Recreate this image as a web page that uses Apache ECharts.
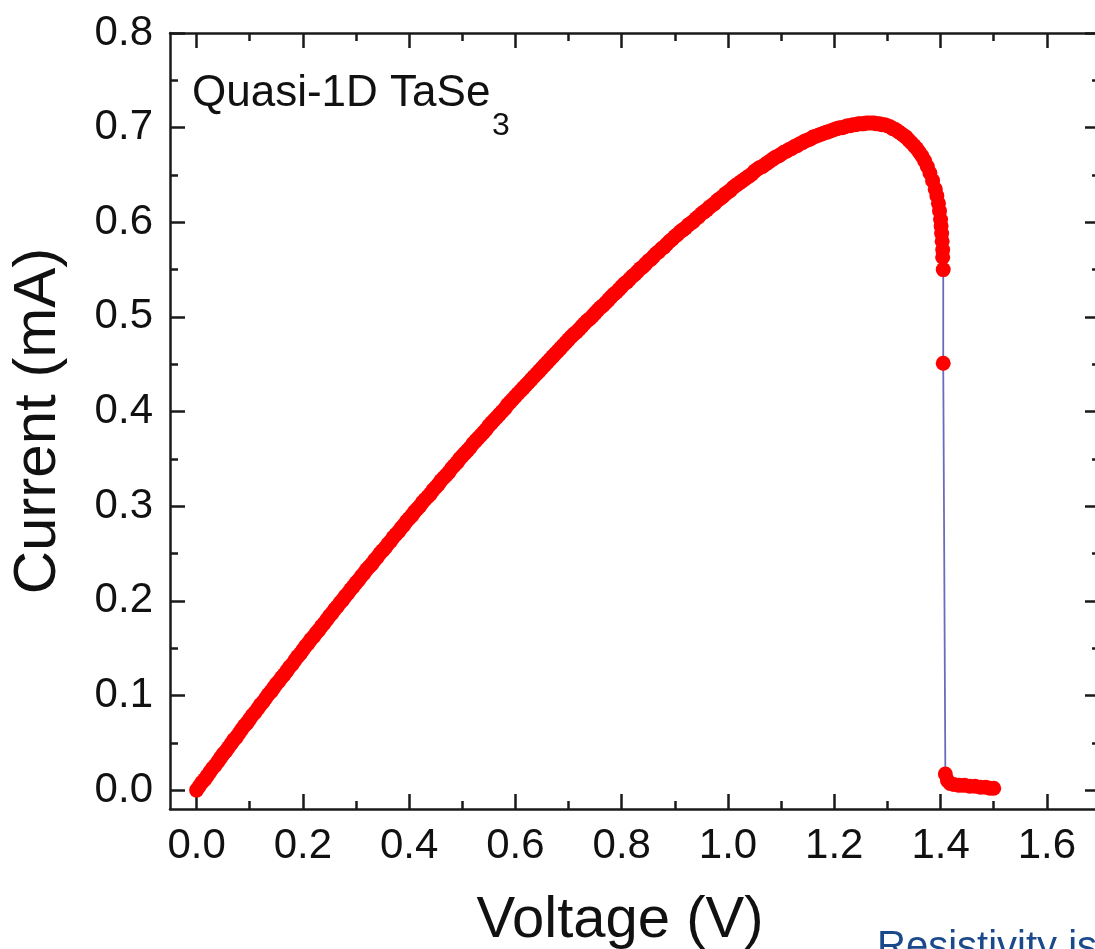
<!DOCTYPE html>
<html>
<head>
<meta charset="utf-8">
<title>Quasi-1D TaSe3 I-V</title>
<script src="https://cdn.jsdelivr.net/npm/echarts@6/dist/echarts.min.js"></script>
<style>
  html, body { margin: 0; padding: 0; background: #ffffff; }
  #chart { width: 1095px; height: 949px; }
</style>
</head>
<body>
<div id="chart"></div>
<script>
// Measured I-V sweep of a quasi-1D TaSe3 device (voltage in V, current in mA)
const voltage = [
  0.000, 0.005, 0.010, 0.015, 0.020, 0.025, 0.030, 0.035, 0.040, 0.045, 0.050, 0.055, 0.060, 0.065, 0.070, 0.075, 0.080, 0.085, 0.090, 0.095,
  0.100, 0.105, 0.110, 0.115, 0.120, 0.125, 0.130, 0.135, 0.140, 0.145, 0.150, 0.155, 0.160, 0.165, 0.170, 0.175, 0.180, 0.185, 0.190, 0.195,
  0.200, 0.205, 0.210, 0.215, 0.220, 0.225, 0.230, 0.235, 0.240, 0.245, 0.250, 0.255, 0.260, 0.265, 0.270, 0.275, 0.280, 0.285, 0.290, 0.295,
  0.300, 0.305, 0.310, 0.315, 0.320, 0.325, 0.330, 0.335, 0.340, 0.345, 0.350, 0.355, 0.360, 0.365, 0.370, 0.375, 0.380, 0.385, 0.390, 0.395,
  0.400, 0.405, 0.410, 0.415, 0.420, 0.425, 0.430, 0.435, 0.440, 0.445, 0.450, 0.455, 0.460, 0.465, 0.470, 0.475, 0.480, 0.485, 0.490, 0.495,
  0.500, 0.505, 0.510, 0.515, 0.520, 0.525, 0.530, 0.535, 0.540, 0.545, 0.550, 0.555, 0.560, 0.565, 0.570, 0.575, 0.580, 0.585, 0.590, 0.595,
  0.600, 0.605, 0.610, 0.615, 0.620, 0.625, 0.630, 0.635, 0.640, 0.645, 0.650, 0.655, 0.660, 0.665, 0.670, 0.675, 0.680, 0.685, 0.690, 0.695,
  0.700, 0.705, 0.710, 0.715, 0.720, 0.725, 0.730, 0.735, 0.740, 0.745, 0.750, 0.755, 0.760, 0.765, 0.770, 0.775, 0.780, 0.785, 0.790, 0.795,
  0.800, 0.805, 0.810, 0.815, 0.820, 0.825, 0.830, 0.835, 0.840, 0.845, 0.850, 0.855, 0.860, 0.865, 0.870, 0.875, 0.880, 0.885, 0.890, 0.895,
  0.900, 0.905, 0.910, 0.915, 0.920, 0.925, 0.930, 0.935, 0.940, 0.945, 0.950, 0.955, 0.960, 0.965, 0.970, 0.975, 0.980, 0.985, 0.990, 0.995,
  1.000, 1.005, 1.010, 1.015, 1.020, 1.025, 1.030, 1.035, 1.040, 1.045, 1.050, 1.055, 1.060, 1.065, 1.070, 1.075, 1.080, 1.085, 1.090, 1.095,
  1.100, 1.105, 1.110, 1.115, 1.120, 1.125, 1.130, 1.135, 1.140, 1.145, 1.150, 1.155, 1.160, 1.165, 1.170, 1.175, 1.180, 1.185, 1.190, 1.195,
  1.200, 1.205, 1.210, 1.215, 1.220, 1.225, 1.230, 1.235, 1.240, 1.245, 1.250, 1.255, 1.260, 1.265, 1.270, 1.275, 1.280, 1.285, 1.290, 1.295,
  1.300, 1.305, 1.310, 1.315, 1.320, 1.325, 1.330, 1.335, 1.340, 1.345, 1.350, 1.355, 1.360, 1.365, 1.370,
  1.375, 1.380, 1.385, 1.390, 1.393, 1.396, 1.398, 1.400,
  1.401, 1.402, 1.403, 1.404, 1.404, 1.405, 1.405,
  1.409, 1.413, 1.418, 1.425, 1.435, 1.445, 1.455, 1.465,
  1.475, 1.485, 1.493, 1.500
];
const current = [
  0.000, 0.004, 0.008, 0.011, 0.015, 0.019, 0.023, 0.026, 0.030, 0.034, 0.038, 0.041, 0.045, 0.049, 0.053, 0.056, 0.060, 0.064, 0.068, 0.071,
  0.075, 0.079, 0.082, 0.086, 0.090, 0.093, 0.097, 0.101, 0.104, 0.108, 0.112, 0.115, 0.119, 0.122, 0.126, 0.130, 0.133, 0.137, 0.141, 0.144,
  0.148, 0.152, 0.155, 0.159, 0.162, 0.166, 0.169, 0.173, 0.176, 0.180, 0.184, 0.187, 0.191, 0.194, 0.198, 0.201, 0.205, 0.208, 0.212, 0.215,
  0.219, 0.222, 0.226, 0.229, 0.233, 0.236, 0.239, 0.243, 0.246, 0.250, 0.253, 0.256, 0.260, 0.263, 0.267, 0.270, 0.273, 0.277, 0.280, 0.284,
  0.287, 0.290, 0.294, 0.297, 0.300, 0.304, 0.307, 0.310, 0.313, 0.317, 0.320, 0.323, 0.327, 0.330, 0.333, 0.336, 0.340, 0.343, 0.346, 0.350,
  0.353, 0.356, 0.359, 0.362, 0.366, 0.369, 0.372, 0.375, 0.378, 0.381, 0.385, 0.388, 0.391, 0.394, 0.397, 0.400, 0.403, 0.407, 0.410, 0.413,
  0.416, 0.419, 0.422, 0.425, 0.428, 0.431, 0.434, 0.437, 0.440, 0.443, 0.446, 0.449, 0.452, 0.455, 0.458, 0.461, 0.464, 0.467, 0.470, 0.473,
  0.476, 0.479, 0.482, 0.484, 0.487, 0.490, 0.493, 0.496, 0.498, 0.501, 0.504, 0.507, 0.510, 0.512, 0.515, 0.518, 0.521, 0.524, 0.526, 0.529,
  0.532, 0.535, 0.537, 0.540, 0.543, 0.545, 0.548, 0.551, 0.553, 0.556, 0.559, 0.561, 0.564, 0.567, 0.569, 0.572, 0.574, 0.577, 0.580, 0.582,
  0.585, 0.587, 0.590, 0.592, 0.594, 0.597, 0.599, 0.601, 0.604, 0.606, 0.609, 0.611, 0.613, 0.616, 0.618, 0.620, 0.623, 0.625, 0.627, 0.630,
  0.632, 0.634, 0.637, 0.639, 0.641, 0.643, 0.645, 0.647, 0.649, 0.651, 0.654, 0.656, 0.658, 0.659, 0.661, 0.663, 0.665, 0.667, 0.669, 0.670,
  0.672, 0.674, 0.675, 0.677, 0.678, 0.680, 0.681, 0.683, 0.684, 0.686, 0.687, 0.688, 0.690, 0.691, 0.692, 0.693, 0.694, 0.695, 0.696, 0.697,
  0.698, 0.699, 0.700, 0.700, 0.701, 0.702, 0.702, 0.703, 0.703, 0.704, 0.704, 0.704, 0.705, 0.705, 0.705, 0.705, 0.704, 0.704, 0.703, 0.703,
  0.702, 0.701, 0.699, 0.698, 0.696, 0.694, 0.692, 0.690, 0.687, 0.684, 0.681, 0.678, 0.674, 0.670, 0.665,
  0.659, 0.652, 0.644, 0.635, 0.628, 0.620, 0.612, 0.603,
  0.596, 0.588, 0.580, 0.571, 0.563, 0.550, 0.451,
  0.017, 0.010, 0.007, 0.006, 0.005, 0.005, 0.004, 0.004,
  0.003, 0.003, 0.002, 0.002
];

// Axis ticks
const xTicks = [0.0, 0.2, 0.4, 0.6, 0.8, 1.0, 1.2, 1.4, 1.6];
const xMinorTicks = [0.1, 0.3, 0.5, 0.7, 0.9, 1.1, 1.3, 1.5];
const yTicks = [0.0, 0.1, 0.2, 0.3, 0.4, 0.5, 0.6, 0.7, 0.8];
const yMinorTicks = [0.05, 0.15, 0.25, 0.35, 0.45, 0.55, 0.65, 0.75];

const xRange = { min: -0.05, max: 1.7 };
const yRange = { min: -0.02, max: 0.8 };

const FONT = '"Liberation Sans", Arial, Helvetica, sans-serif';
const INK = '#1a1a1a';
const PLOT = { left: 170, top: 33, width: 930, height: 776 };

const points = voltage.map((v, i) => [v, current[i]]);

// One framed axis; grid 0 carries the major ticks and the frame,
// grid 1 (same rectangle) carries only the short minor ticks.
function frameAxis(gridIndex, position, range, ticks, tickLen, opts) {
  return Object.assign({
    type: 'value',
    gridIndex: gridIndex,
    position: position,
    min: range.min,
    max: range.max,
    axisLine: { show: gridIndex === 0, onZero: false, lineStyle: { color: INK, width: 2.5 } },
    axisTick: { show: true, inside: true, length: tickLen, customValues: ticks,
                lineStyle: { color: INK, width: 2.5 } },
    axisLabel: { show: false },
    splitLine: { show: false },
    minorTick: { show: false }
  }, opts || {});
}

const tickFmt = v => Number(v).toFixed(1);

// Fixed plot rectangle: the frame is allowed to run past the right edge.
function plotGrid() {
  return Object.assign({ containLabel: false, outerBoundsMode: 'none' }, PLOT);
}

const option = {
  animation: false,
  backgroundColor: '#ffffff',
  grid: [plotGrid(), plotGrid()],
  xAxis: [
    frameAxis(0, 'bottom', xRange, xTicks, 15, {
      axisLabel: { show: true, customValues: xTicks, formatter: tickFmt,
                   fontFamily: FONT, fontSize: 42, color: '#111', margin: 16 },
      name: 'Voltage (V)', nameLocation: 'middle', nameGap: 83,
      nameTextStyle: { fontFamily: FONT, fontSize: 58, color: '#111', padding: [0, 30, 0, 0] }
    }),
    frameAxis(0, 'top', xRange, xTicks, 15),
    frameAxis(1, 'bottom', xRange, xMinorTicks, 8),
    frameAxis(1, 'top', xRange, xMinorTicks, 8)
  ],
  yAxis: [
    frameAxis(0, 'left', yRange, yTicks, 15, {
      axisLabel: { show: true, customValues: yTicks, formatter: tickFmt,
                   fontFamily: FONT, fontSize: 42, color: '#111', margin: 17 },
      name: 'Current (mA)', nameLocation: 'middle', nameGap: 102,
      nameTextStyle: { fontFamily: FONT, fontSize: 60, color: '#111' }
    }),
    frameAxis(0, 'right', yRange, yTicks, 15),
    frameAxis(1, 'left', yRange, yMinorTicks, 8),
    frameAxis(1, 'right', yRange, yMinorTicks, 8)
  ],
  series: [{
    type: 'line',
    xAxisIndex: 0,
    yAxisIndex: 0,
    data: points,
    symbol: 'circle',
    symbolSize: 15,
    showAllSymbol: true,
    itemStyle: { color: '#ff0000' },
    lineStyle: { color: '#6b6bbd', width: 1.8 },
    emphasis: { disabled: true }
  }],
  graphic: [
    { type: 'text', left: 192, top: 72,
      style: { text: 'Quasi-1D TaSe', font: '44px ' + FONT, fill: '#111' } },
    { type: 'text', left: 492, top: 110,
      style: { text: '3', font: '32px ' + FONT, fill: '#111' } },
    { type: 'text', left: 877, top: 928,
      style: { text: 'Resistivity is', font: '40px ' + FONT, fill: '#1b4a8a' } }
  ]
};

const chart = echarts.init(document.getElementById('chart'), null, { renderer: 'canvas' });
chart.setOption(option);
</script>
</body>
</html>
